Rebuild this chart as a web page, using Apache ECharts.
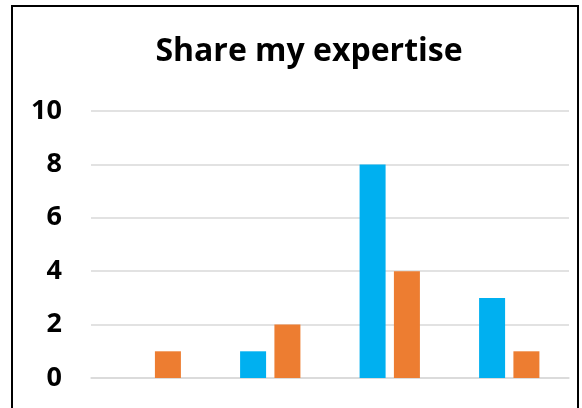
<!DOCTYPE html>
<html><head><meta charset="utf-8">
<script src="https://cdn.jsdelivr.net/npm/echarts@6/dist/echarts.min.js"></script>
<style>html,body{margin:0;padding:0;background:#fff}#c{width:582px;height:408px}</style>
</head><body><div id="c"></div>
<script>
const categories = ['1', '2', '3', '4'];
const seriesA = [0, 1, 8, 3];
const seriesB = [1, 2, 4, 1];
const yTicks = [0, 2, 4, 6, 8, 10];

const chart = echarts.init(document.getElementById('c'));
chart.setOption({
  animation: false,
  title: {
    text: 'Share my expertise', left: 304, top: 31, textAlign: 'center',
    textStyle: { fontFamily: 'Open Sans', fontWeight: 'bold', fontSize: 32, color: '#000' }
  },
  graphic: [{
    type: 'rect', shape: { x: 12, y: 6, width: 566, height: 520 },
    style: { fill: 'none', stroke: '#000', lineWidth: 2 }, z: 100
  }],
  grid: { left: 91, right: 13, top: 111, bottom: 30, containLabel: false },
  xAxis: {
    type: 'category', data: categories,
    axisLine: { show: true, lineStyle: { color: '#d9d9d9', width: 1.5 } },
    axisTick: { show: false }, axisLabel: { show: false }
  },
  yAxis: {
    type: 'value', min: yTicks[0], max: yTicks[yTicks.length - 1], interval: 2,
    axisLine: { show: false }, axisTick: { show: false },
    splitLine: { lineStyle: { color: '#d9d9d9', width: 1.5 } },
    axisLabel: { fontFamily: 'Open Sans', fontWeight: 'bold', fontSize: 27, color: '#000', margin: 29 }
  },
  series: [
    { type: 'bar', data: seriesA, barWidth: 26, barGap: '32%', itemStyle: { color: '#00B0F0' } },
    { type: 'bar', data: seriesB, barWidth: 26, itemStyle: { color: '#ED7D31' } }
  ]
});
</script></body></html>
